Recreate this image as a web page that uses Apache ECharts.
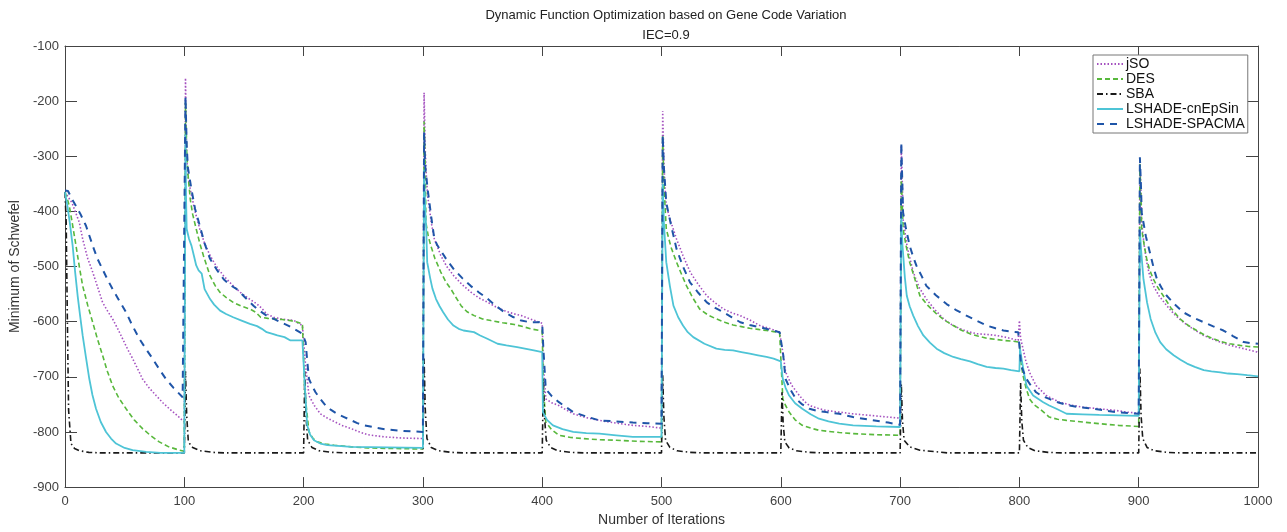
<!DOCTYPE html>
<html>
<head>
<meta charset="utf-8">
<script src="https://cdn.jsdelivr.net/npm/echarts@6/dist/echarts.min.js"></script>
<style>
  html, body { margin: 0; padding: 0; background: #fff; }
  #chart { width: 1287px; height: 532px; }
</style>
</head>
<body>
<div id="chart"></div>
<script>
// values, [iteration, minimum]
const xTicks = [0, 100, 200, 300, 400, 500, 600, 700, 800, 900, 1000];
const yTicks = [-900, -800, -700, -600, -500, -400, -300, -200, -100];

const jSO = [
  [0,-365],[6,-385],[12,-420],[14.8,-450],[19,-485],[23.2,-510],[27,-535],[31.5,-565],[35.5,-580],[39.9,-595],[44,-612],[48.3,-631],[52.5,-650],[56.7,-667],[61,-686],[65,-704],[70.5,-720],[76.4,-734],[82,-747],[87.5,-758],[94,-770],[100,-782],
  [101,-158],[102,-300],[103,-335],[105,-360],[109,-400],[113,-432],[117,-458],[121.6,-480],[127,-500],[133,-517],[140,-533],[147,-547],[154,-558],[161,-568],[165,-576],[169,-586],[175,-592],[181,-595],[192,-598],[199,-607],[200,-608],
  [201.7,-680],[204.5,-734],[209,-752],[214,-767],[220,-775],[225.6,-781],[232,-788],[240,-794],[247,-800],[253.6,-805],[268,-809],[283,-811],[300,-812],
  [301,-185],[302,-290],[303,-340],[304,-372],[307,-420],[309.6,-450],[315,-480],[320,-500],[326,-517],[333,-533],[340.5,-547],[347,-557],[354.5,-565],[361,-573],[368.5,-580],[375,-585],[382.5,-589],[390,-595],[397.6,-601],[400,-603],
  [401,-680],[403,-740],[408,-747],[414,-752],[420,-760],[426,-767],[437,-774],[448,-779],[462,-784],[476,-788],[488,-790],[500,-793],
  [501,-218],[502,-310],[503,-360],[504,-390],[508,-420],[512.6,-450],[518,-480],[524,-510],[531,-533],[538,-553],[545,-566],[552,-577],[559,-584],[566,-589],[574,-597],[582.5,-607],[590,-612],[599,-619],[600,-620],
  [602,-660],[604,-691],[609,-715],[615.6,-734],[620,-745],[624,-752],[631,-757],[638,-761],[649,-764],[660,-767],[675,-770],[690,-773],[700,-775],
  [701,-280],[702,-360],[702.5,-414],[706,-465],[711,-510],[716,-538],[722,-559],[729,-578],[736.5,-595],[743,-605],[750.5,-613],[757,-618],[764.5,-622],[772,-623],[781,-625],[790,-629],[799,-634],[800,-598],
  [801,-630],[803,-649],[805.5,-672],[808.5,-692],[814,-716],[822.5,-734],[833.6,-746],[843,-751],[853,-755],[867,-758],[881,-761],[890,-764],[900,-766],
  [901,-310],[902,-370],[902.5,-420],[904.5,-460],[906.7,-492],[909,-515],[912.3,-535],[917,-553],[923.5,-571],[930,-587],[937.4,-601],[946,-614],[954.5,-625],[961,-631],[968.5,-637],[975,-642],[982.5,-646],[990,-650],[999.3,-655],[1000,-656]
];

const DES = [
  [0,-365],[2,-378],[3.6,-390],[6,-420],[9.2,-462],[12,-500],[14.8,-535],[19,-570],[23.2,-601],[27,-630],[31.5,-661],[35.5,-690],[39.9,-716],[45,-738],[51.2,-758],[58,-778],[65,-794],[72,-807],[79,-818],[87,-827],[95.9,-833],[100,-835],
  [101,-203],[102,-290],[103,-330],[105,-378],[107,-405],[110,-432],[113,-458],[116,-480],[121.6,-517],[126,-535],[130,-547],[135,-556],[141,-565],[148,-572],[155,-577],[160,-583],[164,-592],[170,-594],[175,-595],[182,-596],[189,-598],[195,-601],[199,-604],[200,-606],
  [201,-728],[204.5,-800],[208,-812],[211.5,-818],[218,-822],[225.6,-824],[240,-827],[253.6,-829],[275,-830],[300,-831],
  [301,-237],[302,-320],[302.5,-420],[304.5,-445],[306.6,-462],[310,-485],[315,-510],[319,-527],[323.5,-541],[328,-557],[332,-571],[337,-582],[343,-589],[350,-595],[357,-598],[367,-602],[376.6,-605],[384,-609],[390.6,-613],[397.6,-616],[400,-617],
  [401,-720],[403,-782],[408,-796],[414,-806],[424,-810],[434,-812],[448,-814],[462,-815],[480,-817],[500,-818],
  [501,-263],[502,-350],[504,-432],[508,-465],[512.6,-492],[517,-515],[521,-535],[526,-556],[532,-577],[539,-588],[546,-595],[553,-601],[560,-606],[567,-609],[574,-612],[581,-614],[588,-616],[594,-618],[599,-620],[600,-621],
  [601.7,-740],[604,-752],[607,-764],[612,-778],[618,-788],[625,-793],[632,-797],[640,-799],[649,-801],[660.6,-803],[680,-805],[700,-806],
  [701,-336],[702,-400],[702.5,-432],[705,-462],[708,-492],[712,-520],[716.6,-553],[723,-570],[730.6,-586],[737,-597],[744.6,-607],[751,-615],[758.6,-622],[765,-626],[772.6,-630],[780,-632],[786.6,-634],[793,-635],[800,-637],
  [801,-670],[803,-697],[805.5,-720],[808.5,-740],[812,-750],[817,-758],[825,-773],[832,-777],[839.5,-779],[853,-782],[867,-785],[883,-788],[900,-790],
  [901,-314],[902,-380],[902.5,-432],[904.5,-460],[906.7,-486],[909,-505],[912.3,-523],[916,-538],[920.6,-553],[927,-575],[934.6,-595],[941,-606],[948.6,-616],[955,-624],[962.6,-631],[969,-636],[976.5,-640],[985,-643],[992,-645],[1000,-646]
];

const SBA = [
  [0,-365],[1,-420],[2,-600],[3,-760],[5,-821],[8,-830],[12,-834],[20,-837],[30,-838],
  [100,-838],[101,-690],[102,-770],[103.4,-818],[107,-828],[113,-834],[124,-837],[135,-838],
  [200,-838],[201,-690],[202,-770],[203.4,-815],[207,-828],[213,-834],[224,-837],[235,-838],
  [300,-838],[301,-667],[302,-760],[303.4,-812],[307,-828],[313,-834],[324,-837],[335,-838],
  [400,-838],[401,-704],[402,-775],[403.4,-815],[407,-828],[413,-834],[424,-837],[435,-838],
  [500,-838],[501,-697],[502,-772],[503.4,-815],[507,-828],[513,-834],[524,-837],[535,-838],
  [600,-838],[601,-728],[602,-785],[603.4,-818],[607,-829],[613,-834],[624,-837],[635,-838],
  [700,-838],[701,-713],[702,-780],[703.4,-815],[708,-827],[716.6,-833],[730.6,-836],[740,-838],
  [800,-838],[801,-711],[802,-780],[803.4,-815],[807,-828],[813,-834],[824,-837],[835,-838],
  [900,-838],[901,-685],[902,-770],[903.4,-812],[907,-828],[913,-834],[924,-837],[935,-838],[1000,-838]
];

const cnEpSin = [
  [0,-365],[2,-390],[4,-420],[6.4,-462],[8.5,-510],[10.6,-553],[12.7,-590],[14.8,-625],[17.6,-665],[20.4,-704],[23,-733],[26,-758],[30,-782],[34.4,-800],[38.6,-812],[42.8,-821],[50,-829],[56.7,-833],[68,-836],[80,-838],[100,-838],
  [101,-260],[101.5,-380],[102,-432],[104,-450],[106,-462],[108,-480],[110,-498],[112,-507],[114.6,-513],[117,-541],[121.6,-559],[125,-569],[130,-580],[135,-586],[141,-592],[148,-598],[155,-604],[161,-608],[165,-613],[169,-619],[174,-622],[178,-625],[184,-628],[189,-634],[199,-634],[200,-636],
  [201,-716],[203,-788],[205.5,-805],[208.7,-815],[214,-821],[220,-824],[240,-827],[270,-828],[300,-829],
  [301,-324],[302,-400],[302.8,-432],[303.6,-492],[306,-520],[308,-540],[311,-559],[314,-572],[317,-583],[321,-596],[325.6,-607],[330,-613],[334,-616],[342.8,-619],[348,-625],[354,-631],[362.6,-640],[370,-643],[379,-646],[393,-652],[400,-655],
  [400.6,-764],[404,-778],[409,-788],[417,-795],[426,-800],[437,-802],[448,-803],[462,-806],[476,-809],[500,-809],
  [501,-350],[502,-420],[504,-492],[507,-535],[510,-571],[514,-592],[518,-607],[522,-619],[526.6,-628],[536,-640],[546,-649],[553,-651],[560,-652],[567,-655],[574,-658],[581,-661],[588,-664],[594,-667],[600,-672],
  [601.7,-704],[604,-720],[607,-734],[612,-748],[618,-758],[625,-768],[632,-776],[640,-781],[649,-785],[660.6,-788],[680,-790],[700,-791],
  [701,-400],[701.5,-440],[702,-462],[704,-520],[705.6,-553],[708,-572],[711,-589],[715,-608],[719.5,-625],[725,-638],[730.6,-649],[737,-657],[744.6,-664],[751,-668],[758.6,-672],[765,-677],[772.6,-682],[780,-684],[786.6,-685],[793,-688],[800,-690],
  [800.5,-649],[801.8,-667],[804,-695],[806,-716],[811.5,-734],[820,-746],[825,-752],[831,-758],[839.5,-767],[853,-768],[867,-769],[883,-770],[900,-771],
  [901,-432],[902,-470],[904,-523],[907,-565],[910,-595],[914,-620],[918,-637],[923,-650],[929.3,-661],[935,-669],[940.5,-676],[947,-682],[954.5,-688],[961,-690],[968.5,-692],[975,-694],[982.5,-695],[991,-697],[1000,-699]
];

const SPACMA = [
  [0,-362],[2.5,-363],[6,-378],[9.2,-390],[13,-405],[17.6,-426],[23.2,-462],[27,-485],[31.5,-505],[35.5,-523],[39.9,-541],[45,-560],[51.2,-583],[56,-605],[62.3,-631],[68,-650],[73.4,-667],[79,-686],[84.6,-704],[91,-720],[98.6,-737],[100,-740],
  [101,-192],[102,-280],[103,-320],[106,-360],[109,-395],[113,-426],[117,-458],[121.6,-486],[127,-505],[133,-523],[138,-533],[144,-541],[151,-556],[158,-571],[163,-580],[169,-589],[175,-595],[181,-601],[187,-607],[192,-613],[199,-622],[200,-624],
  [201.7,-637],[203,-670],[204.5,-704],[207,-716],[210,-728],[214,-740],[218.5,-752],[223,-760],[228,-767],[234,-773],[240,-779],[245,-784],[251,-788],[260,-792],[268,-795],[283,-798],[300,-800],
  [301,-257],[302,-320],[304,-360],[307,-410],[309.6,-450],[312,-461],[315,-471],[320,-488],[326,-505],[333,-521],[340,-535],[347,-547],[354.5,-559],[361,-571],[368.5,-583],[375,-591],[382.5,-598],[390,-601],[397.6,-601],[400,-603],
  [401,-650],[403,-722],[408,-735],[414,-746],[420,-755],[426,-764],[437,-772],[448,-779],[462,-781],[476,-783],[488,-784],[500,-785],
  [501,-262],[502,-320],[504,-384],[508,-425],[512.6,-468],[518,-500],[524,-529],[531,-548],[538,-565],[545,-575],[552,-583],[559,-592],[566,-601],[574,-606],[582.5,-610],[590,-614],[599,-619],[600,-620],
  [602,-660],[604,-704],[608,-723],[612.6,-740],[618,-750],[624,-758],[631,-762],[638,-764],[649,-767],[660.6,-773],[675,-778],[690,-783],[700,-787],
  [701,-275],[702,-360],[702.5,-402],[705,-432],[708,-462],[710.6,-480],[713.6,-498],[718,-517],[722,-535],[730,-552],[739,-568],[747,-579],[755.6,-589],[764,-598],[772.6,-607],[780,-612],[786.6,-616],[793,-618],[799,-619],[800,-620],
  [801.5,-680],[806,-704],[810,-717],[814,-728],[819,-735],[825,-740],[832,-746],[839.5,-751],[850,-755],[862,-758],[881,-764],[900,-767],
  [901,-302],[902,-360],[902.5,-402],[906,-445],[910,-480],[912.5,-502],[915.3,-523],[919,-538],[923.5,-553],[930,-568],[937.4,-583],[946,-593],[954.5,-601],[962,-608],[971,-616],[979,-626],[988,-637],[994,-639],[1000,-640]
];

const FONT = '"Liberation Sans", Arial, Helvetica, sans-serif';
const chart = echarts.init(document.getElementById('chart'));

function lineSerie(name, data, color, width, dash) {
  return {
    name: name,
    type: 'line',
    data: data,
    showSymbol: false,
    symbol: 'none',
    animation: false,
    lineStyle: { color: color, width: width, type: dash },
    itemStyle: { color: color }
  };
}

// MATLAB style box: ticks inside on all four sides
const axisLine = { show: true, onZero: false, lineStyle: { color: '#444', width: 1 } };

const option = {
  backgroundColor: '#fff',
  animation: false,
  title: {
    text: 'Dynamic Function Optimization based on Gene Code Variation\nIEC=0.9',
    left: 661,
    top: 0,
    textAlign: 'center',
    textStyle: { fontFamily: FONT, fontSize: 13, fontWeight: 'normal', color: '#222', lineHeight: 20 }
  },
  legend: {
    orient: 'vertical',
    left: 1093,
    top: 55,
    backgroundColor: '#fff',
    borderColor: '#777',
    borderWidth: 1,
    padding: [2, 3, 2, 3],
    itemGap: 1,
    itemWidth: 26,
    itemHeight: 14,
    itemStyle: { opacity: 0, borderWidth: 0 },
    textStyle: { fontFamily: FONT, fontSize: 14, color: '#111', padding: [0, 0, 0, -2] },
    data: ['jSO', 'DES', 'SBA', 'LSHADE-cnEpSin', 'LSHADE-SPACMA']
  },
  grid: { left: 65, right: 29, top: 46, bottom: 44 },
  xAxis: [{
    type: 'value', min: 0, max: 1000, interval: 100,
    name: 'Number of Iterations', nameLocation: 'middle', nameGap: 24,
    nameTextStyle: { fontFamily: FONT, fontSize: 14, color: '#333' },
    axisLine: axisLine,
    axisTick: { inside: true, length: 10, lineStyle: { color: '#444' } },
    axisLabel: { fontFamily: FONT, fontSize: 13, color: '#404040', margin: 8,
      formatter: v => xTicks.indexOf(v) >= 0 ? String(v) : '' },
    splitLine: { show: false }
  }, {
    type: 'value', min: 0, max: 1000, interval: 100, position: 'top',
    axisLine: axisLine,
    axisTick: { inside: true, length: 10, lineStyle: { color: '#444' } },
    axisLabel: { show: false },
    splitLine: { show: false }
  }],
  yAxis: [{
    type: 'value', min: -900, max: -100, interval: 100, position: 'left',
    name: 'Minimum of Schwefel', nameLocation: 'middle', nameGap: 42,
    nameTextStyle: { fontFamily: FONT, fontSize: 14, color: '#333' },
    axisLine: axisLine,
    axisTick: { inside: true, length: 12, lineStyle: { color: '#444' } },
    axisLabel: { fontFamily: FONT, fontSize: 13, color: '#404040', margin: 6,
      formatter: v => yTicks.indexOf(v) >= 0 ? String(v) : '' },
    splitLine: { show: false }
  }, {
    type: 'value', min: -900, max: -100, interval: 100, position: 'right',
    axisLine: axisLine,
    axisTick: { inside: true, length: 12, lineStyle: { color: '#444' } },
    axisLabel: { show: false },
    splitLine: { show: false }
  }],
  series: [
    lineSerie('jSO', jSO, '#a450bf', 1.6, [1.5, 2]),
    lineSerie('DES', DES, '#58b83c', 1.6, [5, 3]),
    lineSerie('SBA', SBA, '#1a1a1a', 1.6, [6, 3, 1.5, 3]),
    lineSerie('LSHADE-cnEpSin', cnEpSin, '#4ec4d6', 1.8, 'solid'),
    lineSerie('LSHADE-SPACMA', SPACMA, '#1f55a8', 2, [7, 6])
  ]
};

chart.setOption(option);
</script>
</body>
</html>
